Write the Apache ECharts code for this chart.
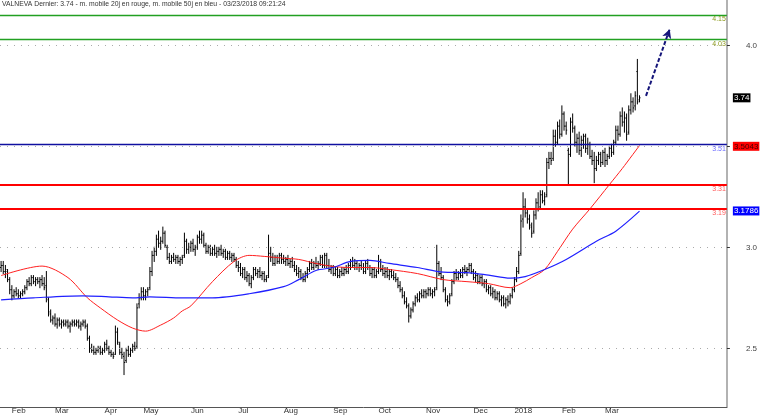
<!DOCTYPE html>
<html><head><meta charset="utf-8">
<script src="https://cdn.jsdelivr.net/npm/echarts@6/dist/echarts.min.js"></script>
<style>html,body{margin:0;padding:0;background:#fff}#c{width:760px;height:415px}</style>
</head><body><div id="c"></div>
<script>
const titleText = 'VALNEVA Dernier: 3.74 - m. mobile 20j en rouge, m. mobile 50j en bleu - 03/23/2018 09:21:24';
// month tick labels (first trading day of each month after the late-January lead-in)
const monthLabels = ['Feb','Mar','Apr','May','Jun','Jul','Aug','Sep','Oct','Nov','Dec','2018','Feb','Mar'];
const yTicks = [2.5, 3.0, 3.5, 4.0];
const totalSlots = 337;

// daily bars [open, high, low, close]
const jan17 = [[2.90,2.93,2.88,2.91],[2.91,2.93,2.87,2.88],[2.88,2.91,2.85,2.89],[2.88,2.89,2.83,2.84],[2.84,2.85,2.77,2.79]];
const feb17 = [[2.79,2.81,2.74,2.76],[2.76,2.79,2.75,2.78],[2.78,2.80,2.76,2.77],[2.77,2.79,2.75,2.76],[2.76,2.78,2.75,2.77],[2.77,2.79,2.76,2.78],[2.78,2.81,2.77,2.80],[2.80,2.84,2.79,2.83],[2.83,2.85,2.81,2.82],[2.82,2.86,2.81,2.85],[2.85,2.86,2.82,2.83],[2.83,2.85,2.81,2.84],[2.84,2.85,2.82,2.83],[2.83,2.85,2.80,2.84],[2.84,2.86,2.81,2.82],[2.82,2.85,2.79,2.80],[2.81,2.88,2.73,2.75],[2.74,2.75,2.66,2.68],[2.67,2.69,2.63,2.64],[2.64,2.66,2.62,2.65]];
const mar17 = [[2.65,2.67,2.61,2.62],[2.62,2.65,2.60,2.64],[2.64,2.65,2.61,2.62],[2.62,2.64,2.60,2.63],[2.63,2.64,2.61,2.62],[2.62,2.64,2.61,2.63],[2.63,2.64,2.60,2.61],[2.61,2.63,2.58,2.62],[2.62,2.64,2.61,2.63],[2.63,2.64,2.61,2.62],[2.62,2.64,2.61,2.63],[2.63,2.64,2.60,2.61],[2.61,2.63,2.59,2.62],[2.62,2.64,2.61,2.63],[2.63,2.64,2.60,2.61],[2.61,2.62,2.54,2.55],[2.55,2.56,2.48,2.50],[2.50,2.52,2.48,2.49],[2.49,2.51,2.47,2.48],[2.48,2.50,2.47,2.49],[2.49,2.51,2.48,2.50],[2.50,2.51,2.47,2.48],[2.48,2.50,2.47,2.49]];
const apr17 = [[2.49,2.53,2.48,2.52],[2.52,2.54,2.49,2.50],[2.50,2.51,2.47,2.48],[2.48,2.49,2.46,2.47],[2.47,2.48,2.45,2.46],[2.47,2.61,2.47,2.58],[2.58,2.60,2.52,2.53],[2.52,2.53,2.47,2.48],[2.48,2.50,2.45,2.47],[2.46,2.48,2.37,2.43],[2.44,2.50,2.43,2.49],[2.49,2.51,2.46,2.47],[2.47,2.50,2.46,2.49],[2.49,2.52,2.48,2.51],[2.51,2.53,2.49,2.50],[2.51,2.72,2.50,2.70],[2.72,2.77,2.70,2.75],[2.75,2.80,2.74,2.78]];
const may17 = [[2.78,2.80,2.74,2.76],[2.76,2.79,2.74,2.78],[2.78,2.80,2.76,2.79],[2.80,2.90,2.79,2.88],[2.88,2.98,2.86,2.96],[2.96,3.00,2.93,2.98],[2.98,3.06,2.96,3.04],[3.04,3.08,3.00,3.02],[3.02,3.05,2.99,3.03],[3.03,3.10,3.02,3.07],[3.07,3.08,3.00,3.01],[3.00,3.01,2.94,2.95],[2.95,2.97,2.92,2.93],[2.93,2.96,2.92,2.95],[2.95,2.97,2.93,2.94],[2.94,2.96,2.92,2.95],[2.95,2.96,2.92,2.93],[2.93,2.95,2.91,2.94],[2.94,2.96,2.92,2.95],[2.96,3.07,2.95,3.03],[3.03,3.04,2.97,2.99],[2.99,3.02,2.97,3.00]];
const jun17 = [[3.00,3.03,2.98,3.02],[3.02,3.04,2.98,2.99],[2.99,3.01,2.96,3.00],[3.00,3.06,2.99,3.05],[3.05,3.08,3.02,3.04],[3.04,3.08,3.02,3.06],[3.06,3.07,3.00,3.01],[3.01,3.02,2.97,2.98],[2.98,3.01,2.97,3.00],[3.00,3.01,2.96,2.97],[2.97,3.00,2.96,2.99],[2.99,3.01,2.96,2.97],[2.97,3.00,2.95,2.98],[2.98,3.00,2.96,2.99],[2.99,3.01,2.96,2.97],[2.97,2.99,2.95,2.98],[2.98,2.99,2.94,2.95],[2.95,2.98,2.94,2.97],[2.97,2.98,2.94,2.95],[2.95,2.97,2.93,2.96],[2.96,2.97,2.93,2.94],[2.94,2.95,2.90,2.91]];
const jul17 = [[2.91,2.93,2.88,2.90],[2.90,2.92,2.86,2.87],[2.87,2.90,2.85,2.89],[2.89,2.90,2.84,2.85],[2.85,2.88,2.83,2.86],[2.86,2.87,2.81,2.82],[2.82,2.86,2.80,2.85],[2.85,2.90,2.84,2.89],[2.89,2.90,2.86,2.87],[2.87,2.89,2.85,2.88],[2.88,2.90,2.85,2.86],[2.86,2.88,2.84,2.87],[2.87,2.88,2.83,2.84],[2.84,2.86,2.83,2.85],[2.86,3.06,2.85,2.97],[2.97,3.00,2.93,2.95],[2.95,2.97,2.91,2.92],[2.92,2.96,2.91,2.95],[2.95,2.96,2.92,2.93],[2.93,2.97,2.92,2.96],[2.96,2.97,2.92,2.94]];
const aug17 = [[2.94,2.96,2.92,2.93],[2.93,2.95,2.91,2.94],[2.94,2.96,2.91,2.92],[2.92,2.94,2.90,2.93],[2.93,2.95,2.90,2.91],[2.91,2.93,2.88,2.89],[2.89,2.91,2.86,2.87],[2.87,2.90,2.85,2.88],[2.88,2.89,2.84,2.85],[2.85,2.87,2.83,2.84],[2.84,2.88,2.83,2.87],[2.87,2.90,2.85,2.89],[2.89,2.93,2.88,2.92],[2.92,2.94,2.89,2.90],[2.90,2.93,2.89,2.92],[2.92,2.95,2.90,2.91],[2.91,2.93,2.89,2.92],[2.92,2.96,2.91,2.95],[2.95,2.96,2.90,2.91],[2.91,2.97,2.90,2.96],[2.96,2.97,2.90,2.91],[2.91,2.94,2.88,2.89],[2.89,2.91,2.87,2.90]];
const sep17 = [[2.90,2.91,2.86,2.87],[2.87,2.90,2.86,2.89],[2.89,2.90,2.85,2.86],[2.86,2.89,2.85,2.88],[2.88,2.90,2.86,2.87],[2.87,2.90,2.86,2.89],[2.89,2.91,2.87,2.88],[2.88,2.92,2.87,2.91],[2.91,2.94,2.89,2.93],[2.93,2.95,2.90,2.91],[2.91,2.94,2.89,2.92],[2.92,2.93,2.89,2.90],[2.90,2.92,2.88,2.91],[2.91,2.93,2.89,2.90],[2.90,2.92,2.87,2.88],[2.88,2.93,2.87,2.92],[2.92,2.94,2.89,2.90],[2.90,2.91,2.86,2.87],[2.87,2.90,2.85,2.89],[2.89,2.90,2.85,2.86],[2.86,2.89,2.85,2.88]];
const oct17 = [[2.88,2.96,2.87,2.93],[2.93,2.94,2.88,2.89],[2.89,2.91,2.86,2.87],[2.87,2.90,2.85,2.88],[2.88,2.90,2.85,2.86],[2.86,2.89,2.84,2.88],[2.88,2.89,2.85,2.86],[2.86,2.88,2.84,2.85],[2.85,2.87,2.83,2.84],[2.84,2.85,2.80,2.81],[2.81,2.83,2.78,2.79],[2.79,2.80,2.75,2.76],[2.76,2.78,2.72,2.73],[2.73,2.75,2.70,2.71],[2.71,2.72,2.63,2.66],[2.66,2.70,2.65,2.69],[2.69,2.73,2.68,2.72],[2.72,2.76,2.71,2.75],[2.75,2.77,2.73,2.74],[2.74,2.78,2.73,2.77],[2.77,2.79,2.75,2.76],[2.76,2.79,2.75,2.78]];
const nov17 = [[2.78,2.79,2.75,2.77],[2.77,2.80,2.76,2.79],[2.79,2.80,2.76,2.77],[2.77,2.79,2.75,2.78],[2.78,2.80,2.76,2.79],[2.80,3.01,2.79,2.92],[2.92,2.93,2.86,2.87],[2.87,2.90,2.84,2.85],[2.85,2.86,2.78,2.79],[2.79,2.80,2.73,2.74],[2.74,2.76,2.71,2.73],[2.73,2.77,2.72,2.76],[2.77,2.84,2.76,2.83],[2.83,2.88,2.82,2.87],[2.87,2.89,2.84,2.85],[2.85,2.88,2.84,2.87],[2.87,2.89,2.85,2.86],[2.86,2.90,2.85,2.89],[2.89,2.91,2.87,2.88],[2.88,2.90,2.86,2.89],[2.89,2.92,2.88,2.91],[2.91,2.92,2.87,2.88]];
const dec17 = [[2.88,2.89,2.84,2.85],[2.85,2.88,2.83,2.86],[2.86,2.87,2.82,2.83],[2.83,2.86,2.82,2.85],[2.85,2.86,2.81,2.82],[2.82,2.84,2.80,2.83],[2.83,2.84,2.78,2.79],[2.79,2.81,2.77,2.80],[2.80,2.81,2.76,2.77],[2.77,2.80,2.75,2.78],[2.78,2.79,2.74,2.75],[2.75,2.78,2.74,2.77],[2.77,2.78,2.73,2.74],[2.74,2.76,2.71,2.75],[2.75,2.76,2.71,2.72],[2.72,2.75,2.70,2.74],[2.74,2.76,2.71,2.73],[2.73,2.77,2.72,2.76],[2.76,2.80,2.75,2.79]];
const jan18 = [[2.79,2.85,2.78,2.84],[2.84,2.90,2.83,2.88],[2.88,2.98,2.87,2.96],[2.97,3.16,2.96,3.13],[3.14,3.27,3.10,3.20],[3.20,3.24,3.15,3.17],[3.17,3.19,3.12,3.14],[3.14,3.16,3.09,3.11],[3.10,3.12,3.05,3.07],[3.08,3.18,3.07,3.16],[3.16,3.24,3.14,3.22],[3.22,3.27,3.18,3.19],[3.20,3.28,3.19,3.26],[3.26,3.28,3.22,3.23],[3.23,3.27,3.21,3.25],[3.26,3.44,3.25,3.42],[3.42,3.47,3.39,3.44],[3.44,3.47,3.41,3.43],[3.44,3.58,3.43,3.55],[3.55,3.58,3.50,3.52],[3.52,3.62,3.51,3.60],[3.60,3.63,3.54,3.56]];
const feb18 = [[3.56,3.70,3.55,3.66],[3.66,3.67,3.58,3.60],[3.60,3.62,3.56,3.58],[3.48,3.49,3.31,3.46],[3.46,3.64,3.45,3.62],[3.62,3.66,3.57,3.59],[3.59,3.60,3.50,3.52],[3.52,3.56,3.47,3.54],[3.54,3.57,3.46,3.48],[3.48,3.55,3.45,3.53],[3.53,3.56,3.49,3.55],[3.55,3.56,3.47,3.49],[3.49,3.54,3.46,3.51],[3.51,3.52,3.44,3.45],[3.45,3.48,3.41,3.43],[3.43,3.47,3.32,3.39],[3.39,3.45,3.38,3.43],[3.43,3.47,3.41,3.46],[3.46,3.47,3.40,3.42],[3.42,3.48,3.41,3.47]];
const mar18 = [[3.47,3.49,3.40,3.43],[3.43,3.46,3.41,3.45],[3.45,3.50,3.44,3.49],[3.49,3.51,3.45,3.47],[3.47,3.53,3.46,3.52],[3.52,3.60,3.51,3.58],[3.58,3.60,3.53,3.56],[3.56,3.67,3.55,3.65],[3.65,3.69,3.60,3.62],[3.62,3.67,3.57,3.64],[3.64,3.66,3.53,3.56],[3.57,3.70,3.56,3.68],[3.68,3.76,3.66,3.72],[3.72,3.74,3.67,3.69],[3.70,3.77,3.68,3.75],[3.87,3.93,3.71,3.72],[3.73,3.75,3.72,3.74]];

// moving averages at [trading-day index, value]
const ma20Pts = [[0,2.86],[19,2.907],[31,2.85],[40,2.75],[46,2.70],[54,2.64],[61,2.60],[67,2.585],[74,2.615],[80,2.65],[84,2.685],[88,2.71],[98,2.83],[108,2.93],[115,2.96],[122,2.955],[131,2.946],[138,2.94],[146,2.92],[154,2.905],[162,2.90],[171,2.90],[180,2.89],[193,2.87],[205,2.84],[216,2.83],[226,2.82],[236,2.80],[241,2.82],[246,2.85],[252,2.89],[258,2.98],[265,3.09],[273,3.19],[282,3.31],[288,3.39],[296,3.504]];
const ma50Pts = [[0,2.74],[15,2.75],[38,2.76],[50,2.755],[61,2.75],[69,2.755],[84,2.75],[98,2.75],[115,2.77],[131,2.805],[138,2.84],[146,2.885],[154,2.90],[162,2.93],[171,2.935],[180,2.92],[193,2.90],[205,2.877],[216,2.875],[226,2.862],[236,2.847],[243,2.855],[252,2.89],[262,2.94],[276,3.03],[285,3.08],[296,3.179]];

// horizontal levels
const greenLevels = [4.15, 4.03];
const blueLevels = [3.51];
const redLevels = [3.31, 3.19];
const lastClose = 3.74, ma20Last = 3.5043, ma50Last = 3.1786;
const arrowFrom = [299, 3.75], arrowTo = [310, 4.08];

const leadIn = [jan17];
const months = [feb17, mar17, apr17, may17, jun17, jul17, aug17, sep17, oct17, nov17, dec17, jan18, feb18, mar18];
const bars = leadIn.concat(months).flat();
const ohlcData = bars.map((b, i) => [i, b[0], b[1], b[2], b[3]]);
const labelAt = {};
let idx = jan17.length;
months.forEach((m, k) => { labelAt[idx] = monthLabels[k]; idx += m.length; });
const slots = Array.from({length: totalSlots}, (_, i) => String(i));
const FF = '"Liberation Sans", Arial, sans-serif';

function renderOHLC(params, api) {
  const i = api.value(0);
  const pO = api.coord([i, api.value(1)]);
  const pH = api.coord([i, api.value(2)]);
  const pL = api.coord([i, api.value(3)]);
  const pC = api.coord([i, api.value(4)]);
  const x = pH[0];
  const st = {stroke: '#000', lineWidth: 1};
  return {type: 'group', children: [
    {type: 'line', shape: {x1: x, y1: pH[1] - 0.5, x2: x, y2: pL[1] + 0.5}, style: st},
    {type: 'line', shape: {x1: x - 1, y1: pO[1], x2: x, y2: pO[1]}, style: st},
    {type: 'line', shape: {x1: x, y1: pC[1], x2: x + 1, y2: pC[1]}, style: st}
  ]};
}

function levelLine(v, color, width, labelColor) {
  return {yAxis: v, lineStyle: {color: color, width: width, type: 'solid'},
    label: {show: true, position: 'insideEndBottom', formatter: String(v.toFixed(2)), color: labelColor,
      fontSize: 7, fontFamily: FF, distance: [1, 1]}};
}
function tag(v, text, bg, fg) {
  return {yAxis: v, lineStyle: {color: 'rgba(0,0,0,0)', width: 0},
    label: {show: true, position: 'end', distance: 6, formatter: text, backgroundColor: bg, color: fg,
      fontSize: 8, fontFamily: FF, padding: [1, 1, 0, 1]}};
}

const chart = echarts.init(document.getElementById('c'), null, {renderer: 'canvas'});
chart.setOption({
  animation: false,
  backgroundColor: '#fff',
  title: {text: titleText, left: 2, top: 1, padding: 0,
    textStyle: {fontSize: 6.8, fontWeight: 'normal', color: '#333', fontFamily: FF}},
  grid: {left: 0, right: 33, top: 0, height: 407, containLabel: false},
  xAxis: {
    type: 'category', data: slots, boundaryGap: true,
    axisLine: {lineStyle: {color: '#555', width: 1}},
    axisTick: {interval: (i) => labelAt[i] !== undefined, length: 3, lineStyle: {color: '#333'}},
    axisLabel: {interval: (i) => labelAt[i] !== undefined, formatter: (v, i) => labelAt[i] || '',
      align: 'left', margin: 0, fontSize: 8, color: '#333', fontFamily: FF},
    splitLine: {show: false}
  },
  yAxis: {
    type: 'value', position: 'right', min: 2.2094, max: 4.2243,
    axisLine: {show: true, lineStyle: {color: '#999', width: 1.5}},
    axisTick: {show: true, customValues: yTicks, length: 3, lineStyle: {color: '#333'}},
    axisLabel: {customValues: yTicks, formatter: (v) => v.toFixed(1), margin: 19, fontSize: 8, color: '#444', fontFamily: FF},
    splitLine: {show: false}
  },
  series: [
    {type: 'line', data: [], z: 1, silent: true,
      markLine: {silent: true, symbol: 'none', animation: false,
        lineStyle: {color: '#aaa', width: 1, type: [1, 6]}, label: {show: false},
        data: yTicks.map(v => ({yAxis: v}))}},
    {type: 'custom', name: 'VALNEVA', data: ohlcData, renderItem: renderOHLC, z: 3,
      encode: {x: 0, y: [1, 2, 3, 4]}, clip: true},
    {type: 'line', name: 'MM20', data: ma20Pts, smooth: 0.3, showSymbol: false, z: 4,
      lineStyle: {color: '#ff2020', width: 1}},
    {type: 'line', name: 'MM50', data: ma50Pts, smooth: 0.3, showSymbol: false, z: 4,
      lineStyle: {color: '#2020ff', width: 1.2}},
    {type: 'line', data: [], z: 5, silent: true,
      markLine: {silent: true, symbol: 'none', animation: false,
        data: greenLevels.map(v => levelLine(v, '#22a022', 1.3, '#8c9a1c'))
          .concat(blueLevels.map(v => levelLine(v, '#1010a0', 1.3, '#6b6bff')))
          .concat(redLevels.map(v => levelLine(v, '#ff0000', 2, '#ff5a5a')))
          .concat([tag(lastClose, '3.74', '#000', '#fff'), tag(ma20Last, '3.5043', '#ff0000', '#400'), tag(ma50Last, '3.1786', '#0000ff', '#fff')])}},
    {type: 'line', data: [], z: 6, silent: true,
      markLine: {silent: true, animation: false, symbol: ['none', 'arrow'], symbolSize: [7, 9],
        lineStyle: {color: '#15157a', width: 2, type: [4, 2]}, label: {show: false},
        data: [[{coord: arrowFrom}, {coord: arrowTo}]]}}
  ]
});
</script></body></html>
